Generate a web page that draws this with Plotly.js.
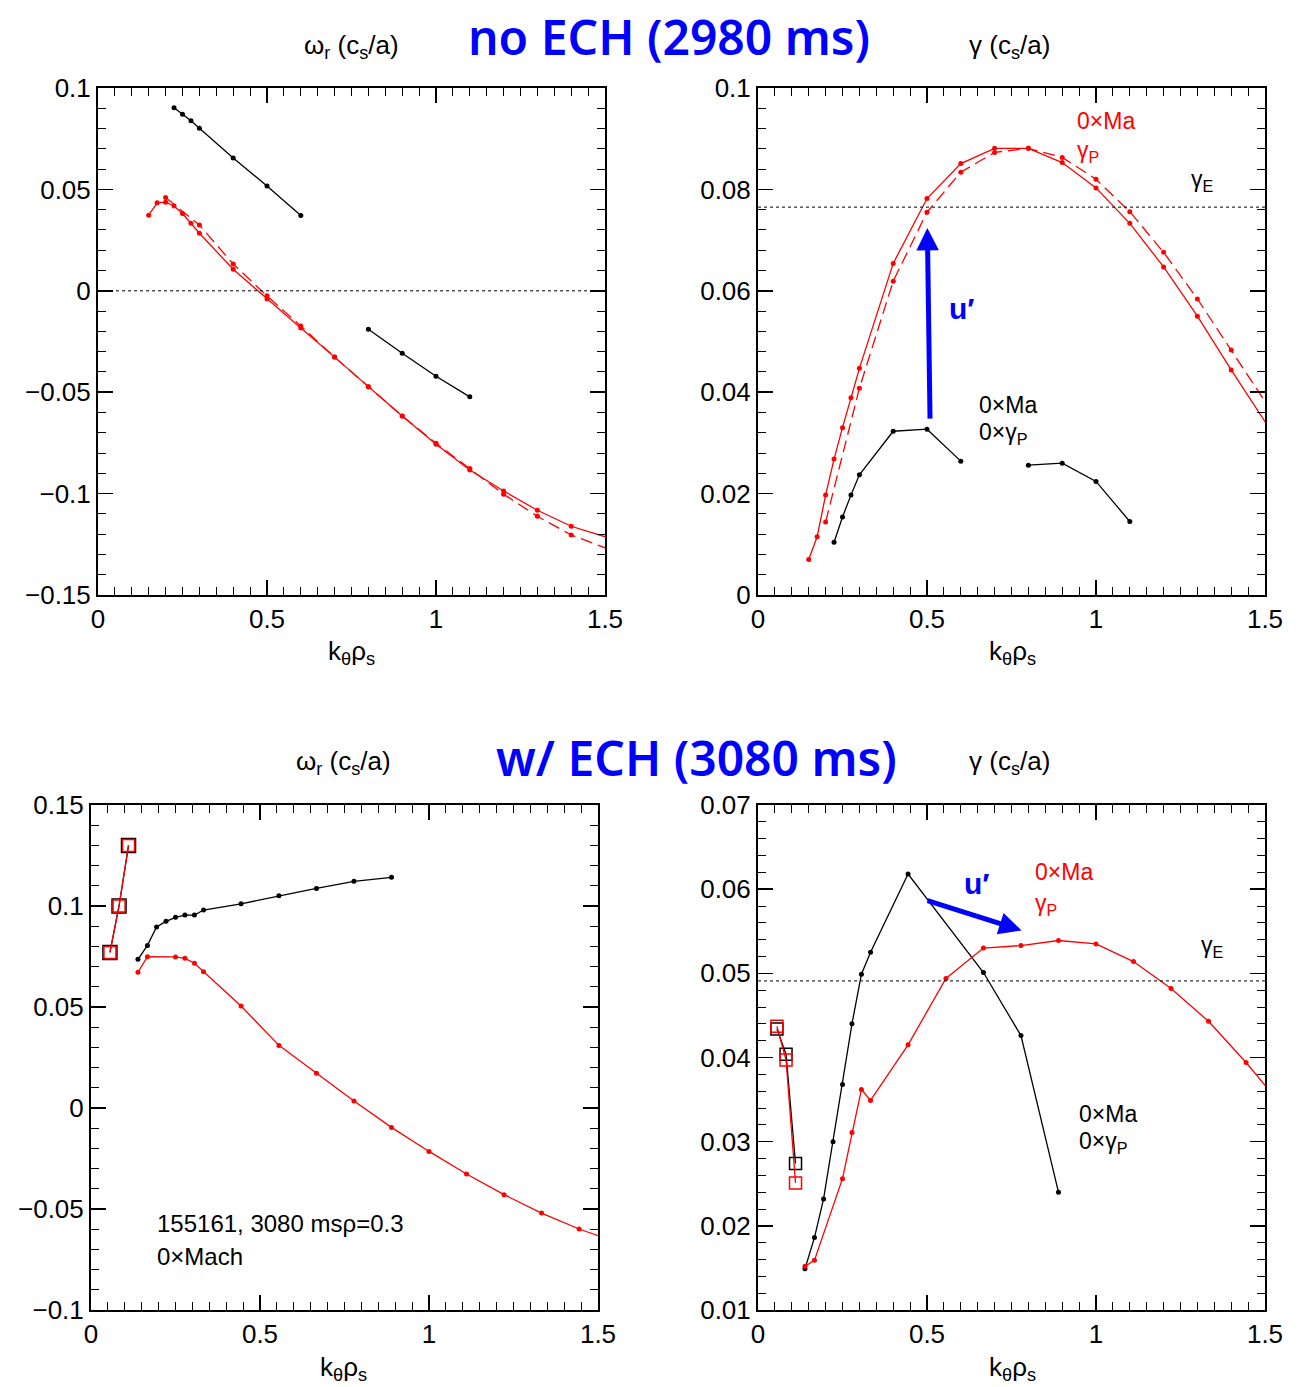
<!DOCTYPE html>
<html>
<head>
<meta charset="utf-8">
<script src="https://cdn.plot.ly/plotly-3.0.1.min.js"></script>
<style>html,body{margin:0;padding:0;background:#fff;}#chart{width:1299px;height:1387px;}</style>
</head>
<body>
<div id="chart"></div>
<script>
// ---------- Top-left: no ECH, omega_r ----------
const tlRedSolidK = [0.15,0.175,0.2,0.225,0.25,0.275,0.3,0.4,0.5,0.6,0.7,0.8,0.9,1.0,1.1,1.2,1.3,1.4,1.6];
const tlRedSolidW = [0.0373,0.0434,0.0437,0.0418,0.0381,0.0333,0.0284,0.0106,-0.0040,-0.0183,-0.0327,-0.0473,-0.0617,-0.0757,-0.0884,-0.0987,-0.1082,-0.1161,-0.1265];
const tlRedDashK  = [0.2,0.3,0.4,0.5,0.6,0.7,0.8,0.9,1.0,1.1,1.2,1.3,1.4,1.6];
const tlRedDashW  = [0.0460,0.0324,0.0132,-0.0025,-0.0173,-0.0327,-0.0473,-0.0617,-0.0752,-0.0876,-0.1003,-0.1112,-0.1204,-0.1330];
const tlBlackK    = [0.225,0.25,0.275,0.3,0.4,0.5,0.6,0.7,0.8,0.9,1.0,1.1];
const tlBlackW    = [0.0903,0.0871,0.0838,0.0802,0.0655,0.0517,0.0371,null,-0.0190,-0.0308,-0.0421,-0.0523];

// ---------- Top-right: no ECH, gamma ----------
const trRedSolidK = [0.15,0.175,0.2,0.225,0.25,0.275,0.3,0.4,0.5,0.6,0.7,0.8,0.9,1.0,1.1,1.2,1.3,1.4,1.6];
const trRedSolidG = [0.0070,0.0115,0.0197,0.0268,0.0330,0.0389,0.0447,0.0654,0.0782,0.0851,0.0881,0.0881,0.0853,0.0803,0.0733,0.0647,0.0550,0.0444,0.0240];
const trRedDashK  = [0.2,0.3,0.4,0.5,0.6,0.7,0.8,0.9,1.0,1.1,1.2,1.3,1.4,1.6];
const trRedDashG  = [0.0144,0.0408,0.0619,0.0755,0.0834,0.0873,0.0881,0.0863,0.0820,0.0756,0.0676,0.0584,0.0483,0.0280];
const trBlackK    = [0.225,0.25,0.275,0.3,0.4,0.5,0.6,0.7,0.8,0.9,1.0,1.1];
const trBlackG    = [0.0104,0.0154,0.0197,0.0237,0.0323,0.0327,0.0264,null,0.0256,0.0260,0.0224,0.0145];
const gammaE_noECH = 0.0765;

// ---------- Bottom-left: w/ ECH, omega_r ----------
const blSqK      = [0.056,0.083,0.111];
const blSqBlackW = [0.077,0.100,0.130];
const blSqRedW   = [0.077,0.100,0.130];
const blBlackK   = [0.139,0.167,0.194,0.222,0.25,0.278,0.306,0.333,0.444,0.556,0.667,0.778,0.889];
const blBlackW   = [0.0736,0.0805,0.0896,0.0924,0.0944,0.0955,0.0955,0.0980,0.1011,0.1051,0.1087,0.1122,0.1142];
const blRedK     = [0.139,0.167,0.25,0.278,0.306,0.333,0.444,0.556,0.667,0.778,0.889,1.0,1.111,1.222,1.333,1.444,1.556];
const blRedW     = [0.0672,0.0749,0.0748,0.0741,0.0717,0.0675,0.0505,0.0310,0.0172,0.0035,-0.0096,-0.0215,-0.0327,-0.0429,-0.0520,-0.0599,-0.0665];

// ---------- Bottom-right: w/ ECH, gamma ----------
const brSqK      = [0.056,0.083,0.111];
const brSqBlackG = [0.0434,0.0404,0.0274];
const brSqRedG   = [0.0437,0.0397,0.0251];
const brBlackK   = [0.139,0.167,0.194,0.222,0.25,0.278,0.306,0.333,0.444,0.667,0.778,0.889];
const brBlackG   = [0.0149,0.0186,0.0232,0.0300,0.0368,0.0440,0.0499,0.0525,0.0618,0.0501,0.0426,0.0240];
const brRedK     = [0.139,0.167,0.25,0.278,0.306,0.333,0.444,0.556,0.667,0.778,0.889,1.0,1.111,1.222,1.333,1.444,1.556];
const brRedG     = [0.0152,0.0159,0.0256,0.0311,0.0362,0.0349,0.0415,0.0494,0.0530,0.0533,0.0539,0.0535,0.0514,0.0482,0.0443,0.0394,0.0340];
const gammaE_ECH = 0.0491;

const RED = '#ff0000', BLK = '#000000', BLUE = '#0000ff';
const TXT = 'Liberation Sans, Arial, sans-serif';

function line(x, y, color, xa, ya, dash, sym, msize) {
  return {x: x, y: y, xaxis: xa, yaxis: ya, type: 'scatter', mode: 'lines+markers',
    connectgaps: false, showlegend: false, hoverinfo: 'skip',
    line: {color: color, width: 1.3, dash: dash || 'solid'},
    marker: sym ? {symbol: sym, size: msize, color: color, line: {color: color, width: 1.5}}
                : {size: 5, color: color}};
}

const traces = [
  line(tlBlackK, tlBlackW, BLK, 'x', 'y'),
  line(tlRedDashK, tlRedDashW, RED, 'x', 'y', '12px,6px'),
  line(tlRedSolidK, tlRedSolidW, RED, 'x', 'y'),

  line(trBlackK, trBlackG, BLK, 'x2', 'y2'),
  line(trRedDashK, trRedDashG, RED, 'x2', 'y2', '12px,6px'),
  line(trRedSolidK, trRedSolidG, RED, 'x2', 'y2'),

  line(blSqK, blSqBlackW, BLK, 'x3', 'y3', null, 'square-open', 14),
  line(blSqK, blSqRedW, RED, 'x3', 'y3', null, 'square-open', 12),
  line(blBlackK, blBlackW, BLK, 'x3', 'y3'),
  line(blRedK, blRedW, RED, 'x3', 'y3'),

  line(brSqK, brSqBlackG, BLK, 'x4', 'y4', null, 'square-open', 12),
  line(brSqK, brSqRedG, RED, 'x4', 'y4', null, 'square-open', 12),
  line(brBlackK, brBlackG, BLK, 'x4', 'y4'),
  line(brRedK, brRedG, RED, 'x4', 'y4')
];

function xax(dom, anchor) {
  return {domain: dom, anchor: anchor, range: [0, 1.5], dtick: 0.5, tick0: 0,
    showgrid: false, zeroline: false, showline: true, mirror: 'allticks',
    linecolor: BLK, linewidth: 2, ticks: 'inside', ticklen: 15, tickwidth: 1.5, tickcolor: BLK,
    tickfont: {family: TXT, size: 26, color: BLK},
    minor: {dtick: 0.05, ticks: 'inside', ticklen: 8, tickwidth: 1, tickcolor: BLK, showgrid: false}};
}
function yax(dom, anchor, range, dt, mdt) {
  return {domain: dom, anchor: anchor, range: range, dtick: dt, tick0: 0,
    showgrid: false, zeroline: false, showline: true, mirror: 'allticks',
    linecolor: BLK, linewidth: 2, ticks: 'inside', ticklen: 15, tickwidth: 1.5, tickcolor: BLK,
    tickfont: {family: TXT, size: 26, color: BLK},
    minor: {dtick: mdt, ticks: 'inside', ticklen: 8, tickwidth: 1, tickcolor: BLK, showgrid: false}};
}

const W = 1299, H = 1387;
const px = v => v / W, py = v => 1 - v / H;
const topY = [py(595), py(88)], botY = [py(1310), py(805)];

function ann(text, x, y, opts) {
  return Object.assign({text: text, x: x, y: y, xref: 'paper', yref: 'paper', showarrow: false,
    xanchor: 'center', yanchor: 'middle', font: {family: TXT, size: 26, color: BLK}}, opts || {});
}
function dann(text, x, y, xr, yr, color, size) {
  return {text: text, x: x, y: y, xref: xr, yref: yr, showarrow: false, xanchor: 'left', yanchor: 'middle',
    font: {family: TXT, size: size || 23, color: color}};
}

const omegaLbl = 'ω<sub>r</sub> (c<sub>s</sub>/a)';
const gammaLbl = 'γ (c<sub>s</sub>/a)';
const kLbl = 'k<sub>θ</sub>ρ<sub>s</sub>';
const titleFont = {family: 'Noto Sans, sans-serif', size: 48, color: BLUE, weight: 600};

const annotations = [
  ann('no ECH (2980 ms)', px(669), py(36), {font: titleFont}),
  ann('w/ ECH (3080 ms)', px(696), py(757), {font: titleFont}),
  ann(omegaLbl, px(352), py(46)),
  ann(gammaLbl, px(1010), py(46)),
  ann(omegaLbl, px(343), py(762)),
  ann(gammaLbl, px(1010), py(762)),
  ann(kLbl, px(352), py(653)),
  ann(kLbl, px(1012), py(653)),
  ann(kLbl, px(343), py(1368)),
  ann(kLbl, px(1012), py(1368)),

  dann('0×Ma', 0.938, 0.0935, 'x2', 'y2', RED),
  dann('γ<sub>P</sub>', 0.938, 0.0875, 'x2', 'y2', RED),
  dann('γ<sub>E</sub>', 1.275, 0.0818, 'x2', 'y2', BLK),
  dann('0×Ma', 0.648, 0.0375, 'x2', 'y2', BLK),
  dann('0×γ<sub>P</sub>', 0.648, 0.0318, 'x2', 'y2', BLK),
  {text: '<b>u′</b>', x: 0.56, y: 0.0566, xref: 'x2', yref: 'y2', showarrow: false, xanchor: 'left', yanchor: 'middle',
   font: {family: TXT, size: 30, color: BLUE}},
  {text: '', x: 0.501, y: 0.0724, ax: 0.509, ay: 0.0345, xref: 'x2', yref: 'y2', axref: 'x2', ayref: 'y2',
   showarrow: true, arrowhead: 2, arrowsize: 0.9, arrowwidth: 5, arrowcolor: BLUE, standoff: 0},

  dann('155161, 3080 msρ=0.3', 0.189, -0.0574, 'x3', 'y3', BLK, 24),
  dann('0×Mach', 0.189, -0.0733, 'x3', 'y3', BLK, 24),

  dann('0×Ma', 0.814, 0.0620, 'x4', 'y4', RED),
  dann('γ<sub>P</sub>', 0.814, 0.0582, 'x4', 'y4', RED),
  dann('γ<sub>E</sub>', 1.305, 0.0532, 'x4', 'y4', BLK),
  dann('0×Ma', 0.944, 0.0333, 'x4', 'y4', BLK),
  dann('0×γ<sub>P</sub>', 0.944, 0.0299, 'x4', 'y4', BLK),
  {text: '<b>u′</b>', x: 0.605, y: 0.0607, xref: 'x4', yref: 'y4', showarrow: false, xanchor: 'left', yanchor: 'middle',
   font: {family: TXT, size: 30, color: BLUE}},
  {text: '', x: 0.780, y: 0.0551, ax: 0.497, ay: 0.0587, xref: 'x4', yref: 'y4', axref: 'x4', ayref: 'y4',
   showarrow: true, arrowhead: 2, arrowsize: 0.9, arrowwidth: 5, arrowcolor: BLUE, standoff: 0}
];

const shapes = [
  {type: 'line', xref: 'x domain', yref: 'y', x0: 0, x1: 1, y0: 0, y1: 0, line: {color: BLK, width: 1, dash: 'dot'}},
  {type: 'line', xref: 'x2 domain', yref: 'y2', x0: 0, x1: 1, y0: gammaE_noECH, y1: gammaE_noECH, line: {color: BLK, width: 1, dash: 'dot'}},
  {type: 'line', xref: 'x4 domain', yref: 'y4', x0: 0, x1: 1, y0: gammaE_ECH, y1: gammaE_ECH, line: {color: BLK, width: 1, dash: 'dot'}}
];

const layout = {
  width: W, height: H, margin: {l: 0, r: 0, t: 0, b: 0},
  paper_bgcolor: '#fff', plot_bgcolor: '#fff', showlegend: false,
  xaxis: xax([px(98), px(605)], 'y'),
  yaxis: yax(topY, 'x', [-0.15, 0.1], 0.05, 0.01),
  xaxis2: xax([px(758), px(1265)], 'y2'),
  yaxis2: yax(topY, 'x2', [0, 0.1], 0.02, 0.004),
  xaxis3: xax([px(91), px(598)], 'y3'),
  yaxis3: yax(botY, 'x3', [-0.1, 0.15], 0.05, 0.01),
  xaxis4: xax([px(758), px(1265)], 'y4'),
  yaxis4: yax(botY, 'x4', [0.01, 0.07], 0.01, 0.002),
  annotations: annotations,
  shapes: shapes
};

Plotly.newPlot('chart', traces, layout, {displayModeBar: false, staticPlot: true});
</script>
</body>
</html>
